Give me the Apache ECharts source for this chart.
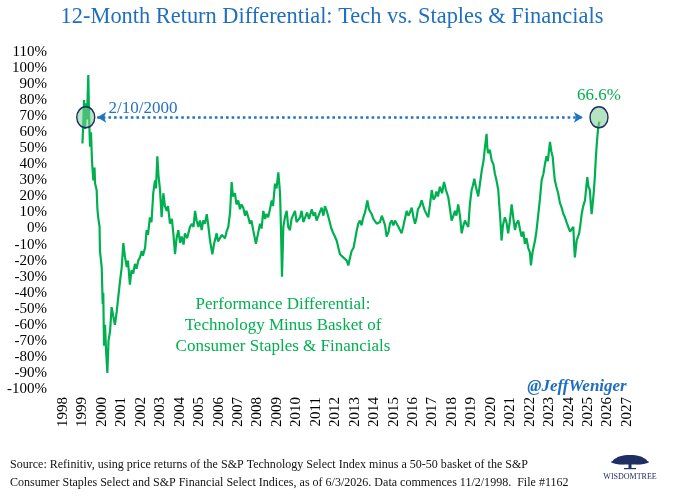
<!DOCTYPE html>
<html>
<head>
<meta charset="utf-8">
<script src="https://cdn.jsdelivr.net/npm/echarts@6.0.0/dist/echarts.min.js"></script>
<style>
  html, body { margin: 0; padding: 0; background: #fff; }
  #chart { width: 680px; height: 497px; }
</style>
</head>
<body>
<div id="chart"></div>
<script>
// 12-month return of Tech minus 50/50 Staples+Financials, in %
// dates are decimal years
const dates = [
  1999.84, 1999.88, 1999.92, 1999.97, 2000.03, 2000.07, 2000.14, 2000.18, 2000.23, 2000.28,
  2000.33, 2000.40, 2000.46, 2000.49, 2000.57, 2000.61, 2000.65, 2000.72, 2000.74, 2000.83,
  2000.88, 2000.91, 2000.95, 2001.00, 2001.05, 2001.12, 2001.18, 2001.26, 2001.34, 2001.43,
  2001.51, 2001.60, 2001.68, 2001.77, 2001.86, 2001.94, 2002.03, 2002.12, 2002.18, 2002.28,
  2002.36, 2002.45, 2002.54, 2002.62, 2002.71, 2002.80, 2002.89, 2002.95, 2003.06, 2003.14,
  2003.21, 2003.31, 2003.39, 2003.48, 2003.57, 2003.62, 2003.69, 2003.75, 2003.83, 2003.91,
  2004.00, 2004.08, 2004.17, 2004.24, 2004.34, 2004.44, 2004.52, 2004.60, 2004.68, 2004.77,
  2004.86, 2004.94, 2005.04, 2005.11, 2005.22, 2005.37, 2005.47, 2005.55, 2005.63, 2005.71,
  2005.80, 2005.88, 2005.97, 2006.05, 2006.14, 2006.23, 2006.29, 2006.40, 2006.52, 2006.60,
  2006.74, 2006.81, 2006.91, 2007.01, 2007.17, 2007.25, 2007.34, 2007.43, 2007.51, 2007.58,
  2007.68, 2007.76, 2007.85, 2007.94, 2008.02, 2008.11, 2008.20, 2008.27, 2008.37, 2008.45,
  2008.53, 2008.62, 2008.76, 2008.87, 2008.97, 2009.05, 2009.14, 2009.23, 2009.30, 2009.39,
  2009.48, 2009.57, 2009.64, 2009.74, 2009.82, 2009.91, 2009.96, 2010.00, 2010.05, 2010.10,
  2010.17, 2010.25, 2010.34, 2010.42, 2010.51, 2010.59, 2010.68, 2010.77, 2010.85, 2010.94,
  2011.03, 2011.11, 2011.20, 2011.28, 2011.39, 2011.49, 2011.63, 2011.72, 2011.80, 2011.88,
  2011.98, 2012.05, 2012.14, 2012.23, 2012.31, 2012.40, 2012.49, 2012.57, 2012.64, 2012.74,
  2012.82, 2012.91, 2013.00, 2013.08, 2013.16, 2013.25, 2013.34, 2013.43, 2013.51, 2013.60,
  2013.68, 2013.78, 2013.85, 2013.93, 2014.02, 2014.11, 2014.19, 2014.28, 2014.37, 2014.49,
  2014.57, 2014.71, 2014.80, 2014.88, 2014.97, 2015.06, 2015.14, 2015.23, 2015.32, 2015.40,
  2015.48, 2015.58, 2015.65, 2015.74, 2015.83, 2015.91, 2016.00, 2016.09, 2016.17, 2016.25,
  2016.35, 2016.42, 2016.51, 2016.60, 2016.68, 2016.77, 2016.86, 2016.94, 2017.01, 2017.09,
  2017.19, 2017.28, 2017.37, 2017.45, 2017.53, 2017.62, 2017.71, 2017.80, 2017.89, 2017.97,
  2018.04, 2018.12, 2018.22, 2018.33, 2018.43, 2018.53, 2018.65, 2018.74, 2018.82, 2018.92,
  2018.99, 2019.07, 2019.16, 2019.25, 2019.34, 2019.43, 2019.51, 2019.58, 2019.68, 2019.76,
  2019.85, 2019.92, 2019.99, 2020.07, 2020.19, 2020.28, 2020.37, 2020.46, 2020.54, 2020.62,
  2020.66, 2020.70, 2020.79, 2020.88, 2020.97, 2021.05, 2021.13, 2021.22, 2021.27, 2021.31,
  2021.39, 2021.46, 2021.56, 2021.64, 2021.73, 2021.82, 2021.91, 2022.00, 2022.08, 2022.15,
  2022.25, 2022.33, 2022.42, 2022.51, 2022.59, 2022.67, 2022.76, 2022.85, 2022.90, 2022.98,
  2023.11, 2023.18, 2023.28, 2023.36, 2023.45, 2023.54, 2023.62, 2023.70, 2023.77, 2023.88,
  2023.95, 2024.02, 2024.08, 2024.13, 2024.21, 2024.30, 2024.39, 2024.48, 2024.57, 2024.65,
  2024.73, 2024.82, 2024.91, 2024.99, 2025.08, 2025.12, 2025.16, 2025.25, 2025.32, 2025.38,
  2025.45, 2025.51, 2025.59, 2025.68, 2025.74, 2025.80, 2025.86, 2025.93, 2025.98, 2026.02,
  2026.08, 2026.14, 2026.19, 2026.24, 2026.30, 2026.36, 2026.42
];
const diffs = [
  53, 65, 80, 62, 78, 68, 95.6, 70, 51, 60,
  42, 30, 38, 28, 24, 12, 7, 1, -14, -24,
  -47, -40, -73, -60, -75, -90, -70, -64, -49, -55,
  -60, -52, -53, -33, -24, -9, -18, -24, -20, -35,
  -26, -28, -22, -25, -20, -18, -14, -17, -12, -1,
  -4, 7, 4, 22, 30, 25, 45, 33, 24, 7,
  22, 14, 11, 14, 3, 6, -4, -16, -6, -1,
  -9, -5, -10, -3, -6, 1, 3, 1, 11, 5,
  1, 5, -1, 5, 3, 9, 4, -7.5, -16, -10,
  -3, -8, -6, -4, -6, -2, 1, 10, 29, 20,
  22, 15, 17.5, 12, 15, 13, 8, 11, 7, 3,
  5, -1, -9.5, -3, 3, 0, 11, 6, 9, 7,
  12, 17.5, 14, 28, 25, 35, 28, 22, -1, -30,
  1, 7, 11, 1, -1, 6, 7, 11, 4, 3,
  7, 11, 4, 5, 10, 6, 12, 8, 10, 5,
  8, 9, 13, 8, 14, 11, 7, 7, 0, -3,
  -5, -7.5, -12, -16, -15, -18, -17, -20, -23, -18,
  -14, -12, -7.5, -2, 3, 5, 2, 7, 10, 17.5,
  12, 9, 6, 7, 3, 2, 4, 8, 5, 2,
  -5, -2, 3, 5, 2, 5, 3, 1, -1, -3,
  2, 6, 11, 8, 10, 13, 7, 3, 6, 12,
  14, 17.5, 14, 11, 9, 7, 15, 24, 18, 19.5,
  23, 20, 26, 22, 29, 24, 19.5, 12, 5, 8,
  11, 8, 15, 8, -3, 2, 5, 3, 1, 15,
  24, 27, 31, 26, 20, 28, 36, 42, 51, 59,
  50, 47, 49, 42.5, 40, 34, 30, 24, 15, 9,
  -7.5, 2, 7, 4, -3, 5, 15, 6, -1, 3,
  5, 0, -5, -2, -9.5, -6, -12, -15, -23, -15,
  -7.5, -2, 9, 18, 30, 34, 40, 45, 42, 54,
  48, 44.5, 36, 30, 26, 22, 16, 13, 9, 7,
  4, 1, -2, -3, 1, -10, -18, -7.5, -5, -3,
  3, 9, 14, 17.5, 25, 32, 26, 24, 15, 9,
  16, 24, 33, 44.5, 55, 63, 66.6
];

// axis: ticks every 12 months from 11/2/1998
const axisStart = 1998.84;
const axisEnd = 2027.84;
const yMin = -100;
const yMax = 110;

// callouts
const peakLabel = '2/10/2000';
const peakMark = [2000.01, 69.3];
const latestLabel = '66.6%';
const latestMark = [2026.4, 69.3];
const arrowFrom = [2000.6, 69.3];
const arrowTo = [2025.57, 69.3];

const noteLines = [
  'Performance Differential:',
  'Technology Minus Basket of',
  'Consumer Staples & Financials',
];
const footerLines = [
  'Source: Refinitiv, using price returns of the S&P Technology Select Index minus a 50-50 basket of the S&P',
  'Consumer Staples Select and S&P Financial Select Indices, as of 6/3/2026. Data commences 11/2/1998.  File #1162',
];

const SERIF = '"Liberation Serif", "DejaVu Serif", serif';
const BLUE = '#1f6fc0';
const GREEN = '#00b050';
const NAVY = '#1f2f63';

const chart = echarts.init(document.getElementById('chart'));

function txt(text, x, y, font, fill, align, extra) {
  return Object.assign({
    type: 'text',
    x: x,
    y: y,
    style: {
      text: text,
      font: font,
      fill: fill,
      textAlign: align || 'left',
      textVerticalAlign: 'middle',
      align: align || 'left',
      verticalAlign: 'middle',
    },
  }, extra || {});
}

const graphics = [
  txt('12-Month Return Differential: Tech vs. Staples & Financials', 332, 17, '22.4px ' + SERIF, BLUE, 'center'),
  txt(noteLines[0], 283, 305, '17px ' + SERIF, GREEN, 'center'),
  txt(noteLines[1], 283, 326, '17px ' + SERIF, GREEN, 'center'),
  txt(noteLines[2], 283, 347, '17px ' + SERIF, GREEN, 'center'),
  txt('@JeffWeniger', 577, 387, 'italic bold 17px ' + SERIF, BLUE, 'center'),
  txt(footerLines[0], 10, 465, '13px ' + SERIF, '#111', 'left', { scaleX: 0.925 }),
  txt(footerLines[1], 10, 483, '13px ' + SERIF, '#111', 'left', { scaleX: 0.925 }),
  // WisdomTree logo
  {
    type: 'group',
    x: 630,
    y: 462,
    children: [
      { type: 'ellipse', shape: { cx: 0, cy: -3, rx: 14, ry: 4 }, style: { fill: NAVY } },
      { type: 'ellipse', shape: { cx: -9, cy: -1, rx: 8, ry: 3.5 }, style: { fill: NAVY } },
      { type: 'ellipse', shape: { cx: 9, cy: -1, rx: 8, ry: 3.5 }, style: { fill: NAVY } },
      { type: 'ellipse', shape: { cx: 0, cy: 0, rx: 19, ry: 2.5 }, style: { fill: NAVY } },
      { type: 'rect', shape: { x: -1.5, y: 1, width: 3, height: 6 }, style: { fill: NAVY } },
      { type: 'rect', shape: { x: -6, y: 6, width: 12, height: 1.2 }, style: { fill: NAVY } },
    ],
  },
  txt('WISDOMTREE', 630, 477, '8px ' + SERIF, NAVY, 'center'),
];

const option = {
  animation: false,
  backgroundColor: '#fff',
  grid: {
    left: 63,
    right: 53,
    top: 52,
    bottom: 108,
    containLabel: false,
    outerBoundsMode: 'none',
  },
  xAxis: {
    type: 'value',
    min: axisStart,
    max: axisEnd,
    interval: 1,
    axisLine: { show: false },
    axisTick: { show: false },
    splitLine: { show: false },
    axisLabel: {
      rotate: 90,
      margin: 8,
      showMinLabel: true,
      showMaxLabel: true,
      color: '#000',
      fontFamily: SERIF,
      fontSize: 15,
      formatter: (v) => String(Math.floor(v + 0.001)),
    },
  },
  yAxis: {
    type: 'value',
    min: yMin,
    max: yMax,
    interval: 10,
    axisLine: { show: false },
    axisTick: { show: false },
    splitLine: { show: false },
    axisLabel: {
      margin: 16,
      color: '#000',
      fontFamily: SERIF,
      fontSize: 15,
      formatter: (v) => v + '%',
    },
  },
  graphic: graphics,
  series: [
    {
      type: 'line',
      data: dates.map((d, i) => [d, diffs[i]]),
      showSymbol: false,
      symbol: 'none',
      sampling: 'none',
      lineStyle: { color: GREEN, width: 2.2 },
      z: 2,
      markLine: {
        silent: true,
        symbol: ['arrow', 'arrow'],
        symbolSize: [8, 9],
        label: { show: false },
        lineStyle: { color: '#1f74c6', width: 2.6, type: [2.6, 3] },
        data: [[{ coord: arrowFrom }, { coord: arrowTo }]],
      },
      markPoint: {
        silent: true,
        symbol: 'circle',
        symbolSize: [18, 21],
        itemStyle: {
          color: 'rgba(120, 205, 145, 0.55)',
          borderColor: NAVY,
          borderWidth: 1.5,
        },
        data: [
          {
            coord: peakMark,
            label: {
              show: true,
              formatter: peakLabel,
              position: 'right',
              distance: 13,
              offset: [0, -9],
              color: '#2473c4',
              fontFamily: SERIF,
              fontSize: 17,
            },
          },
          {
            coord: latestMark,
            label: {
              show: true,
              formatter: latestLabel,
              position: 'top',
              distance: 2,
              color: GREEN,
              fontFamily: SERIF,
              fontSize: 17,
            },
          },
        ],
      },
    },
  ],
};

chart.setOption(option);
</script>
</body>
</html>
